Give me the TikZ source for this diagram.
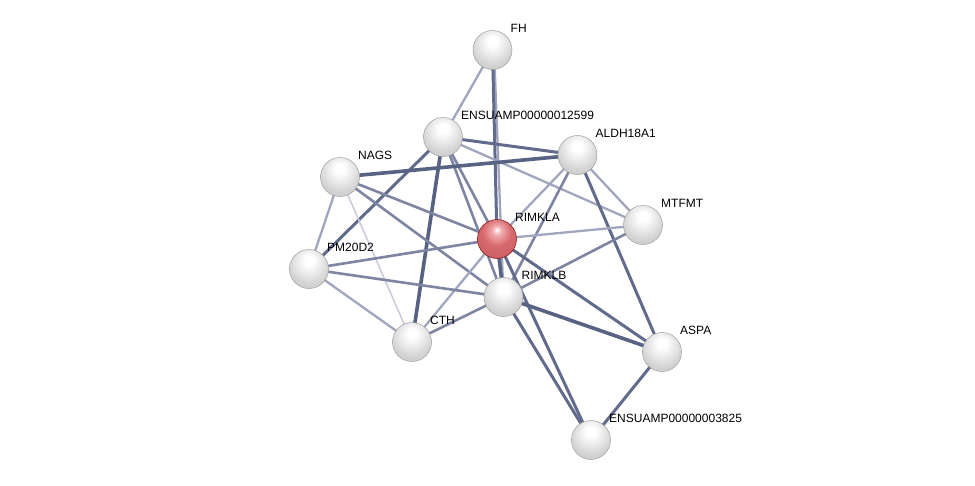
\documentclass[tikz,border=0pt]{standalone}
\usepackage{fontspec}
\setmainfont{Liberation Sans}
\definecolor{rA}{RGB}{240,170,172}
\definecolor{rB}{RGB}{215,105,110}
\definecolor{rC}{RGB}{200,88,94}
\definecolor{rD}{RGB}{165,50,56}
\definecolor{rE}{RGB}{125,22,28}
\definecolor{gA}{RGB}{238,238,238}
\definecolor{gB}{RGB}{212,212,212}
\definecolor{gC}{RGB}{196,196,196}
\definecolor{gD}{RGB}{160,160,160}
\definecolor{gE}{RGB}{115,115,115}
\definecolor{cA}{RGB}{200,203,218}
\definecolor{cB}{RGB}{160,166,190}
\definecolor{cC}{RGB}{125,133,162}
\definecolor{cD}{RGB}{98,107,140}
\definecolor{cE}{RGB}{88,98,130}
\pgfdeclareradialshading{wball}{\pgfpoint{0bp}{12bp}}{color(0bp)=(white); color(6bp)=(white); color(14bp)=(gA); color(26bp)=(gB); color(40bp)=(gC); color(47bp)=(gD); color(50bp)=(gE); color(70bp)=(gE)}
\pgfdeclareradialshading{rball}{\pgfpoint{0bp}{12bp}}{color(0bp)=(white); color(6bp)=(rA); color(18bp)=(rB); color(40bp)=(rC); color(47bp)=(rD); color(50bp)=(rE); color(70bp)=(rE)}
\begin{document}
\begin{tikzpicture}[x=1pt,y=-1pt,
  prot/.style={circle,minimum size=39pt,inner sep=0pt,shading=wball,draw=gray!75,line width=0.5pt},
  qprot/.style={prot,shading=rball,draw=rE},
  lab/.style={anchor=west,font=\fontsize{12}{13}\selectfont,inner sep=1pt},
  eA/.style={line width=1.5pt,draw=cA},
  eB/.style={line width=2.3pt,draw=cB},
  eC/.style={line width=2.6pt,draw=cC},
  eD/.style={line width=3pt,draw=cD},
  eE/.style={line width=3.6pt,draw=cE}]
\useasboundingbox[fill=white] (0,0) rectangle (975,485);
% coordinates
\coordinate (fh) at (492.5,50);
\coordinate (e12) at (443,137);
\coordinate (ald) at (577.5,155);
\coordinate (nags) at (340,177);
\coordinate (mtf) at (643,225);
\coordinate (rla) at (497,239);
\coordinate (pm) at (309,269);
\coordinate (rlb) at (503.5,297);
\coordinate (cth) at (412,342);
\coordinate (aspa) at (662,352);
\coordinate (e38) at (591,440);
% edges
\draw[eB] (fh) -- (e12);
\draw[eB] ([xshift=1.5pt]fh) -- (rlb);
\draw[eD] (fh) -- (rla);
\draw[eD] (e12) -- (ald);
\draw[eB] (e12) -- (mtf);
\draw[eC] (e12) -- (rla);
\draw[eC] (e12) -- (rlb);
\draw[eE] (e12) -- (cth);
\draw[eD] (e12) -- (pm);
\draw[eE] (nags) -- (ald);
\draw[eC] (nags) -- (rla);
\draw[eC] (nags) -- (rlb);
\draw[eB] (nags) -- (pm);
\draw[eA] (nags) -- (cth);
\draw[eB] (ald) -- (rla);
\draw[eC] (ald) -- (rlb);
\draw[eB] (ald) -- (mtf);
\draw[eD] (ald) -- (aspa);
\draw[eB] (rla) -- (mtf);
\draw[eC] (rla) -- (pm);
\draw[eB] (rla) -- (cth);
\draw[eE] (rla) -- (rlb);
\draw[eD] (rla) -- (aspa);
\draw[eD] (rla) -- (e38);
\draw[eD] (rlb) -- (e38);
\draw[eE] (rlb) -- (aspa);
\draw[eC] (rlb) -- (mtf);
\draw[eC] (rlb) -- (cth);
\draw[eC] (rlb) -- (pm);
\draw[eB] (pm) -- (cth);
\draw[eD] (aspa) -- (e38);
% nodes
\foreach \c/\t in {fh/FH,e12/ENSUAMP00000012599,ald/ALDH18A1,nags/NAGS,mtf/MTFMT,pm/PM20D2,rlb/RIMKLB,cth/CTH,aspa/ASPA,e38/ENSUAMP00000003825}{
  \node[prot] (n\c) at (\c) {};
  \node[lab] (l\c) at ([xshift=17pt,yshift=22pt]\c) {\t};
}
\node[qprot] (nrla) at (rla) {};
\node[lab] (lrla) at ([xshift=17pt,yshift=22pt]rla) {RIMKLA};
\end{tikzpicture}
\end{document}
